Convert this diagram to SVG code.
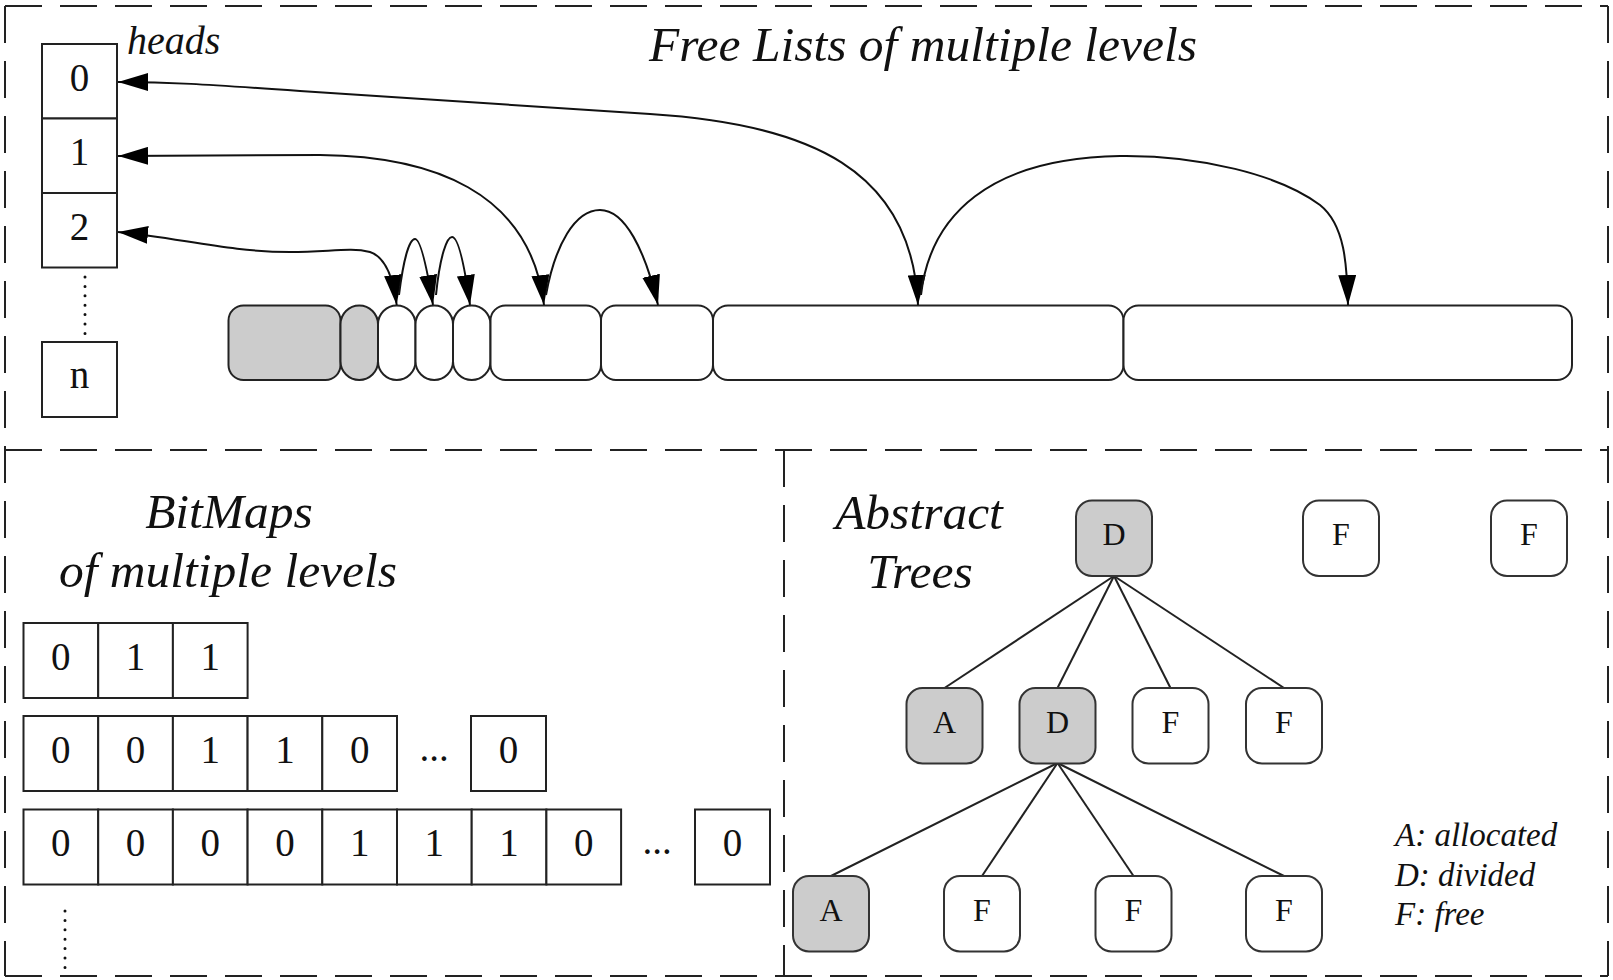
<svg xmlns="http://www.w3.org/2000/svg" width="1613" height="980" viewBox="0 0 1613 980">
<defs>
<marker id="ah" markerUnits="userSpaceOnUse" markerWidth="30" markerHeight="18" viewBox="0 0 30 18" refX="30" refY="9" orient="auto-start-reverse">
<path d="M0,0 L30,9 L0,18 z" fill="#000"/>
</marker>
<style>
.dash{fill:none;stroke:#222;stroke-width:2;stroke-dasharray:37 18}
.box{fill:#fff;stroke:#222;stroke-width:2}
.blk{fill:#fff;stroke:#222;stroke-width:2}
.gray{fill:#cccccc}
.node{stroke:#333;stroke-width:2}
.dig{font-family:"Liberation Serif",serif;font-size:39px;text-anchor:middle;fill:#111}
.nl{font-family:"Liberation Serif",serif;font-size:32px;text-anchor:middle;fill:#111}
.title{font-family:"Liberation Serif",serif;font-style:italic;font-size:49.5px;text-anchor:middle;fill:#111}
.it{font-family:"Liberation Serif",serif;font-style:italic;fill:#111}
.conn{fill:none;stroke:#111;stroke-width:2}
.edge{fill:none;stroke:#222;stroke-width:2}
.dots{fill:none;stroke:#111;stroke-width:3;stroke-linecap:round;stroke-dasharray:0 9.4}
</style>
</defs>
<rect width="1613" height="980" fill="#fff"/>

<g id="panels">
<line class="dash" x1="5" y1="6" x2="1608" y2="6"/>
<line class="dash" x1="5" y1="6" x2="5" y2="976"/>
<line class="dash" x1="1608" y1="6" x2="1608" y2="976"/>
<line class="dash" x1="5" y1="450" x2="1608" y2="450"/>
<line class="dash" x1="5" y1="976" x2="1608" y2="976"/>
<line class="dash" x1="784" y1="450" x2="784" y2="976"/>
</g>

<g id="titles">
<text class="title" x="923" y="61">Free Lists of multiple levels</text>
<text class="it" x="127" y="54" font-size="40">heads</text>
<text class="title" x="229" y="528">BitMaps</text>
<text class="title" x="228" y="587">of multiple levels</text>
<text class="title" x="919" y="529">Abstract</text>
<text class="title" x="920" y="588">Trees</text>
</g>

<g id="heads">
<g id="head0"><rect class="box" x="42" y="44" width="75" height="74.5"/><text class="dig" x="79.5" y="91">0</text></g>
<g id="head1"><rect class="box" x="42" y="118.5" width="75" height="74.5"/><text class="dig" x="79.5" y="165">1</text></g>
<g id="head2"><rect class="box" x="42" y="193" width="75" height="74.5"/><text class="dig" x="79.5" y="240">2</text></g>
<line class="dots" x1="85" y1="277" x2="85" y2="334"/>
<g id="headn"><rect class="box" x="42" y="342" width="75" height="75"/><text class="dig" x="79.5" y="388">n</text></g>
</g>

<g id="blocks">
<g id="b1"><rect class="blk gray" x="228.5" y="305.5" width="112" height="74.5" rx="15"/></g>
<g id="b2"><rect class="blk gray" x="340.5" y="305.5" width="37.5" height="74.5" rx="18.75"/></g>
<g id="b3"><rect class="blk" x="378" y="305.5" width="37.5" height="74.5" rx="18.75"/></g>
<g id="b4"><rect class="blk" x="415.5" y="305.5" width="37.5" height="74.5" rx="18.75"/></g>
<g id="b5"><rect class="blk" x="453" y="305.5" width="37.5" height="74.5" rx="18.75"/></g>
<g id="b6"><rect class="blk" x="490.5" y="305.5" width="110.5" height="74.5" rx="15"/></g>
<g id="b7"><rect class="blk" x="601" y="305.5" width="112" height="74.5" rx="15"/></g>
<g id="b8"><rect class="blk" x="713" y="305.5" width="410.5" height="74.5" rx="15"/></g>
<g id="b9"><rect class="blk" x="1123.5" y="305.5" width="448.5" height="74.5" rx="15"/></g>
</g>

<g id="connectors">
<path class="conn" marker-start="url(#ah)" marker-end="url(#ah)" d="M118,82 C170,82 200,84 300,91 C450,101 560,108 650,114 C810,124 912,170 918,305"/>
<path class="conn" marker-start="url(#ah)" marker-end="url(#ah)" d="M118,156 L320,155 C430,156 530,190 544,305"/>
<path class="conn" marker-start="url(#ah)" marker-end="url(#ah)" d="M118,232 C180,238 230,252 290,252 C330,252 350,247 370,252 C385,257 393,275 396.7,305"/>
<path class="conn" marker-end="url(#ah)" d="M399,295 C404,255 410,239 415,239 C420,239 426,262 433,305"/>
<path class="conn" marker-end="url(#ah)" d="M436,295 C440,255 447,237 452,237 C458,237 464,262 470,305"/>
<path class="conn" marker-end="url(#ah)" d="M546,295 C555,245 575,210 600,210 C625,210 645,250 658,305"/>
<path class="conn" marker-end="url(#ah)" d="M921,295 C930,215 990,158 1120,156 C1200,155 1280,175 1320,205 C1345,225 1347,265 1348,305"/>
</g>

<g id="bitmaps">
<g id="row1">
<rect class="box" x="23.5" y="623" width="74.7" height="75"/><text class="dig" x="60.85" y="669.5">0</text>
<rect class="box" x="98.2" y="623" width="74.7" height="75"/><text class="dig" x="135.55" y="669.5">1</text>
<rect class="box" x="172.9" y="623" width="74.7" height="75"/><text class="dig" x="210.25" y="669.5">1</text>
</g>
<g id="row2">
<rect class="box" x="23.5" y="716" width="74.7" height="75"/><text class="dig" x="60.85" y="762.5">0</text>
<rect class="box" x="98.2" y="716" width="74.7" height="75"/><text class="dig" x="135.55" y="762.5">0</text>
<rect class="box" x="172.9" y="716" width="74.7" height="75"/><text class="dig" x="210.25" y="762.5">1</text>
<rect class="box" x="247.6" y="716" width="74.7" height="75"/><text class="dig" x="284.95" y="762.5">1</text>
<rect class="box" x="322.3" y="716" width="74.7" height="75"/><text class="dig" x="359.65" y="762.5">0</text>
<text class="dig" x="434" y="761">...</text>
<rect class="box" x="471" y="716" width="75" height="75"/><text class="dig" x="508.5" y="762.5">0</text>
</g>
<g id="row3">
<rect class="box" x="23.5" y="809.5" width="74.7" height="75"/><text class="dig" x="60.85" y="856">0</text>
<rect class="box" x="98.2" y="809.5" width="74.7" height="75"/><text class="dig" x="135.55" y="856">0</text>
<rect class="box" x="172.9" y="809.5" width="74.7" height="75"/><text class="dig" x="210.25" y="856">0</text>
<rect class="box" x="247.6" y="809.5" width="74.7" height="75"/><text class="dig" x="284.95" y="856">0</text>
<rect class="box" x="322.3" y="809.5" width="74.7" height="75"/><text class="dig" x="359.65" y="856">1</text>
<rect class="box" x="397" y="809.5" width="74.7" height="75"/><text class="dig" x="434.35" y="856">1</text>
<rect class="box" x="471.7" y="809.5" width="74.7" height="75"/><text class="dig" x="509.05" y="856">1</text>
<rect class="box" x="546.4" y="809.5" width="74.7" height="75"/><text class="dig" x="583.75" y="856">0</text>
<text class="dig" x="657" y="854">...</text>
<rect class="box" x="695" y="809.5" width="75" height="75"/><text class="dig" x="732.5" y="856">0</text>
</g>
<line class="dots" x1="65" y1="911" x2="65" y2="968"/>
</g>

<g id="tree-edges">
<line class="edge" x1="1114" y1="576" x2="944.5" y2="688"/>
<line class="edge" x1="1114" y1="576" x2="1057.5" y2="688"/>
<line class="edge" x1="1114" y1="576" x2="1170.5" y2="688"/>
<line class="edge" x1="1114" y1="576" x2="1284" y2="688"/>
<line class="edge" x1="1057.5" y1="763" x2="831" y2="876"/>
<line class="edge" x1="1057.5" y1="763" x2="982" y2="876"/>
<line class="edge" x1="1057.5" y1="763" x2="1133.5" y2="876"/>
<line class="edge" x1="1057.5" y1="763" x2="1284" y2="876"/>
</g>

<g id="t-root"><rect class="node gray" x="1076" y="500.5" width="76" height="75.5" rx="16"/><text class="nl" x="1114" y="545">D</text></g>
<g id="t-f1"><rect class="node" fill="#fff" x="1303" y="500.5" width="76" height="75.5" rx="16"/><text class="nl" x="1341" y="545">F</text></g>
<g id="t-f2"><rect class="node" fill="#fff" x="1491" y="500.5" width="76" height="75.5" rx="16"/><text class="nl" x="1529" y="545">F</text></g>
<g id="t-a1"><rect class="node gray" x="906.5" y="688" width="76" height="75.5" rx="16"/><text class="nl" x="944.5" y="733">A</text></g>
<g id="t-d1"><rect class="node gray" x="1019.5" y="688" width="76" height="75.5" rx="16"/><text class="nl" x="1057.5" y="733">D</text></g>
<g id="t-f3"><rect class="node" fill="#fff" x="1132.5" y="688" width="76" height="75.5" rx="16"/><text class="nl" x="1170.5" y="733">F</text></g>
<g id="t-f4"><rect class="node" fill="#fff" x="1246" y="688" width="76" height="75.5" rx="16"/><text class="nl" x="1284" y="733">F</text></g>
<g id="t-a2"><rect class="node gray" x="793" y="876" width="76" height="75.5" rx="16"/><text class="nl" x="831" y="921">A</text></g>
<g id="t-f5"><rect class="node" fill="#fff" x="944" y="876" width="76" height="75.5" rx="16"/><text class="nl" x="982" y="921">F</text></g>
<g id="t-f6"><rect class="node" fill="#fff" x="1095.5" y="876" width="76" height="75.5" rx="16"/><text class="nl" x="1133.5" y="921">F</text></g>
<g id="t-f7"><rect class="node" fill="#fff" x="1246" y="876" width="76" height="75.5" rx="16"/><text class="nl" x="1284" y="921">F</text></g>

<g id="legend">
<text class="it" x="1395" y="846" font-size="33">A: allocated</text>
<text class="it" x="1395" y="886" font-size="33">D: divided</text>
<text class="it" x="1395" y="925" font-size="33">F: free</text>
</g>
</svg>
